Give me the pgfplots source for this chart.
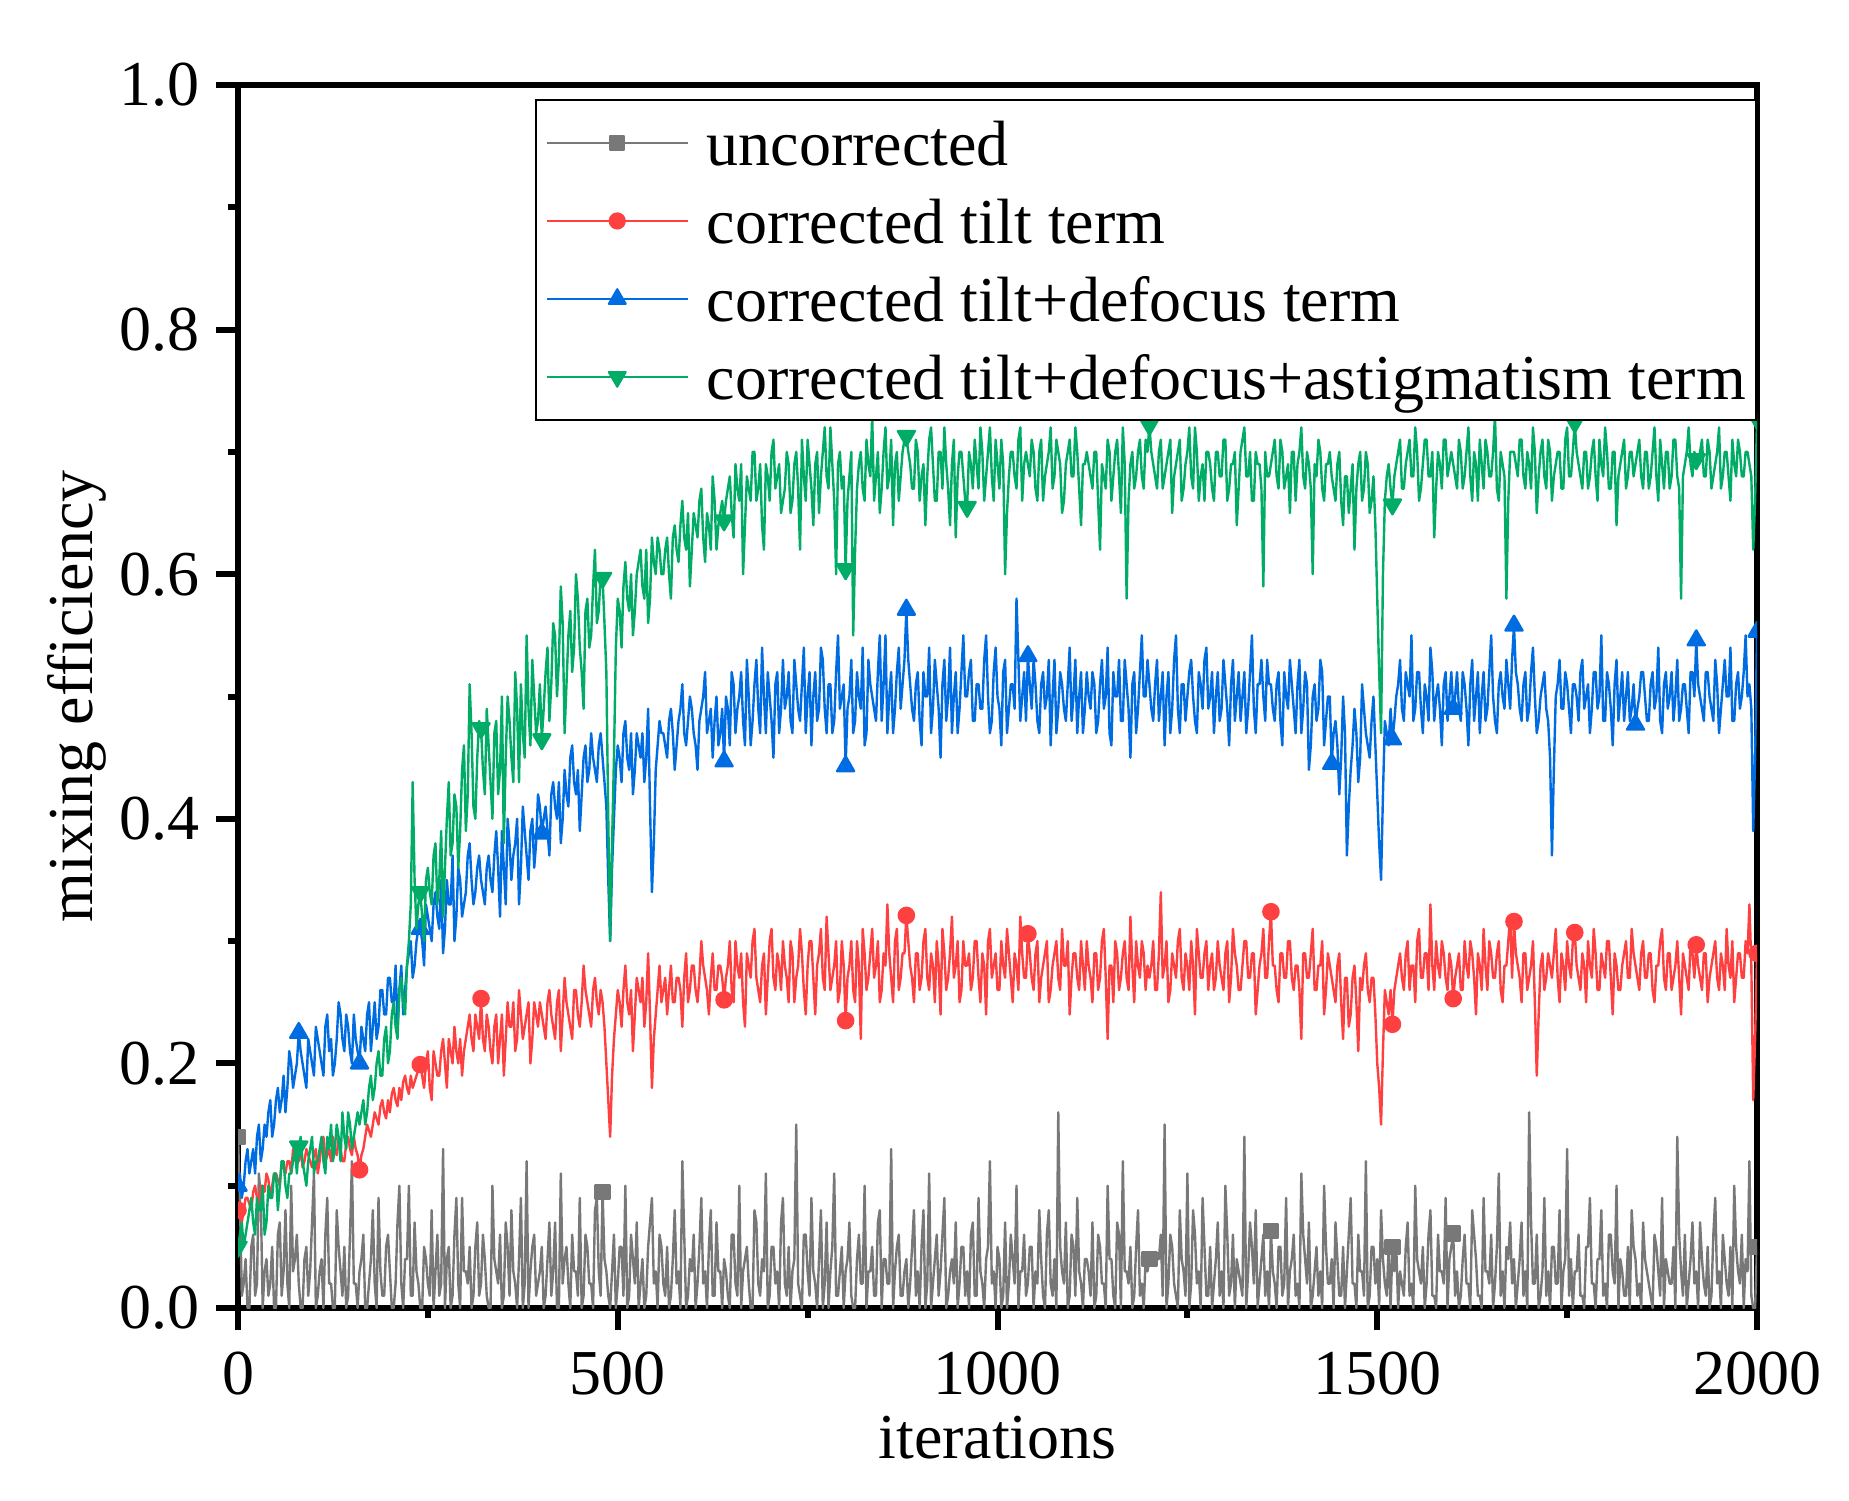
\documentclass[border=0pt]{standalone}
\usepackage{fontspec}
\setmainfont{Liberation Serif}
\usepackage{pgfplots}
\pgfplotsset{compat=1.18}
\usepackage{pgfplotstable}

\definecolor{cGray}{RGB}{120,120,120}
\definecolor{cRed}{RGB}{255,64,64}
\definecolor{cBlue}{RGB}{0,108,226}
\definecolor{cGreen}{RGB}{0,172,102}

% it = iteration, u = uncorrected, r = tilt, b = tilt+defocus, g = tilt+defocus+astigmatism
\pgfplotstableread{
it u r b g
0 0.14 0.08 0.10 0.05
2.5 0.09 0.075 0.11 0.06
5 0.01 0.07 0.09 0.07
7.5 0.02 0.08 0.10 0.05
10 0.04 0.09 0.12 0.06
12.5 0.00 0.09 0.13 0.07
15 0.00 0.085 0.11 0.08
17.5 0.05 0.08 0.12 0.09
20 0.06 0.095 0.13 0.07
22.5 0.01 0.10 0.11 0.06
25 0.02 0.09 0.14 0.09
27.5 0.11 0.085 0.15 0.08
30 0.09 0.10 0.12 0.08
32.5 0.00 0.10 0.13 0.10
35 0.03 0.095 0.15 0.06
37.5 0.04 0.11 0.14 0.07
40 0.01 0.105 0.16 0.10
42.5 0.02 0.09 0.17 0.09
45 0.05 0.10 0.14 0.09
47.5 0.00 0.11 0.15 0.11
50 0.00 0.11 0.17 0.11
52.5 0.06 0.105 0.18 0.08
55 0.07 0.10 0.16 0.10
57.5 0.01 0.12 0.17 0.12
60 0.03 0.115 0.19 0.12
62.5 0.08 0.11 0.16 0.10
65 0.02 0.12 0.18 0.09
67.5 0.00 0.12 0.21 0.11
70 0.10 0.11 0.20 0.11
72.5 0.03 0.13 0.18 0.12
75 0.04 0.125 0.19 0.13
77.5 0.06 0.12 0.20 0.11
80 0.02 0.12 0.225 0.132
82.5 0.00 0.13 0.21 0.14
85 0.00 0.115 0.20 0.12
87.5 0.04 0.12 0.19 0.11
90 0.05 0.13 0.18 0.10
92.5 0.01 0.125 0.22 0.12
95 0.03 0.12 0.21 0.13
97.5 0.07 0.115 0.20 0.14
100 0.11 0.125 0.19 0.11
102.5 0.00 0.13 0.23 0.12
105 0.01 0.11 0.22 0.12
107.5 0.03 0.12 0.21 0.13
110 0.04 0.135 0.20 0.14
112.5 0.00 0.14 0.19 0.12
115 0.06 0.12 0.23 0.11
117.5 0.09 0.125 0.24 0.14
120 0.02 0.13 0.21 0.13
122.5 0.02 0.12 0.22 0.15
125 0.00 0.14 0.19 0.12
127.5 0.00 0.13 0.20 0.13
130 0.08 0.125 0.22 0.15
132.5 0.05 0.14 0.25 0.14
135 0.03 0.13 0.24 0.12
137.5 0.01 0.12 0.22 0.16
140 0.05 0.12 0.21 0.14
142.5 0.00 0.135 0.24 0.13
145 0.01 0.14 0.23 0.16
147.5 0.06 0.13 0.21 0.15
150 0.12 0.125 0.20 0.13
152.5 0.02 0.14 0.24 0.14
155 0.02 0.13 0.22 0.15
157.5 0.00 0.125 0.21 0.16
160 0.03 0.113 0.20 0.15
162.5 0.04 0.125 0.23 0.16
165 0.06 0.13 0.22 0.17
167.5 0.00 0.14 0.21 0.15
170 0.00 0.15 0.24 0.16
172.5 0.02 0.145 0.25 0.18
175 0.04 0.14 0.21 0.19
177.5 0.08 0.15 0.23 0.17
180 0.02 0.16 0.25 0.18
182.5 0.00 0.155 0.22 0.20
185 0.09 0.15 0.23 0.21
187.5 0.03 0.165 0.26 0.19
190 0.01 0.17 0.26 0.19
192.5 0.01 0.16 0.24 0.22
195 0.05 0.155 0.24 0.23
197.5 0.06 0.17 0.27 0.20
200 0.03 0.16 0.27 0.21
202.5 0.00 0.175 0.25 0.24
205 0.00 0.18 0.25 0.25
207.5 0.02 0.17 0.28 0.23
210 0.07 0.165 0.23 0.22
212.5 0.10 0.18 0.26 0.26
215 0.02 0.17 0.28 0.27
217.5 0.00 0.185 0.24 0.25
220 0.04 0.19 0.26 0.24
222.5 0.04 0.18 0.28 0.28
225 0.10 0.175 0.29 0.30
227.5 0.01 0.19 0.30 0.33
230 0.01 0.18 0.27 0.43
232.5 0.07 0.185 0.28 0.35
235 0.03 0.19 0.30 0.31
237.5 0.02 0.195 0.31 0.33
240 0.00 0.199 0.31 0.34
242.5 0.00 0.19 0.30 0.32
245 0.05 0.18 0.28 0.30
247.5 0.04 0.20 0.33 0.35
250 0.02 0.21 0.32 0.36
252.5 0.01 0.18 0.31 0.34
255 0.08 0.17 0.30 0.33
257.5 0.00 0.21 0.33 0.37
260 0.03 0.20 0.34 0.38
262.5 0.06 0.19 0.32 0.33
265 0.01 0.19 0.31 0.35
267.5 0.02 0.21 0.35 0.39
270 0.13 0.22 0.29 0.32
272.5 0.00 0.20 0.31 0.36
275 0.04 0.18 0.35 0.40
277.5 0.05 0.22 0.33 0.43
280 0.00 0.21 0.33 0.37
282.5 0.01 0.20 0.37 0.38
285 0.06 0.23 0.30 0.42
287.5 0.09 0.21 0.32 0.41
290 0.02 0.20 0.36 0.36
292.5 0.00 0.22 0.35 0.39
295 0.09 0.19 0.32 0.44
297.5 0.03 0.21 0.33 0.46
300 0.03 0.22 0.34 0.39
302.5 0.02 0.23 0.37 0.42
305 0.05 0.24 0.38 0.51
307.5 0.00 0.22 0.35 0.47
310 0.01 0.21 0.33 0.41
312.5 0.05 0.24 0.34 0.40
315 0.07 0.23 0.36 0.45
317.5 0.01 0.22 0.37 0.48
320 0.02 0.253 0.35 0.474
322.5 0.06 0.22 0.34 0.44
325 0.04 0.21 0.33 0.42
327.5 0.01 0.24 0.36 0.49
330 0.00 0.23 0.37 0.46
332.5 0.00 0.21 0.35 0.43
335 0.10 0.20 0.34 0.40
337.5 0.04 0.23 0.37 0.47
340 0.03 0.24 0.39 0.48
342.5 0.02 0.20 0.36 0.42
345 0.06 0.22 0.32 0.44
347.5 0.00 0.24 0.39 0.50
350 0.01 0.19 0.36 0.38
352.5 0.07 0.22 0.33 0.45
355 0.05 0.25 0.40 0.50
357.5 0.01 0.23 0.38 0.48
360 0.08 0.23 0.35 0.45
362.5 0.03 0.25 0.37 0.43
365 0.02 0.21 0.38 0.52
367.5 0.00 0.22 0.40 0.49
370 0.04 0.26 0.33 0.43
372.5 0.09 0.24 0.36 0.51
375 0.00 0.22 0.41 0.47
377.5 0.02 0.23 0.39 0.45
380 0.12 0.24 0.37 0.55
382.5 0.00 0.25 0.35 0.49
385 0.03 0.20 0.39 0.46
387.5 0.05 0.22 0.40 0.53
390 0.06 0.25 0.36 0.50
392.5 0.01 0.24 0.38 0.47
395 0.02 0.23 0.42 0.48
397.5 0.03 0.25 0.41 0.51
400 0.05 0.24 0.388 0.465
402.5 0.00 0.23 0.40 0.49
405 0.01 0.22 0.41 0.52
407.5 0.04 0.25 0.39 0.54
410 0.07 0.26 0.37 0.48
412.5 0.01 0.24 0.42 0.51
415 0.03 0.23 0.43 0.56
417.5 0.07 0.22 0.41 0.55
420 0.00 0.25 0.40 0.50
422.5 0.00 0.26 0.43 0.53
425 0.11 0.21 0.38 0.59
427.5 0.02 0.24 0.40 0.56
430 0.04 0.27 0.44 0.47
432.5 0.05 0.25 0.42 0.51
435 0.02 0.24 0.41 0.55
437.5 0.00 0.23 0.45 0.57
440 0.06 0.22 0.46 0.52
442.5 0.03 0.26 0.43 0.54
445 0.03 0.26 0.42 0.60
447.5 0.01 0.24 0.44 0.58
450 0.09 0.23 0.39 0.54
452.5 0.00 0.25 0.42 0.52
455 0.01 0.28 0.45 0.49
457.5 0.06 0.26 0.46 0.57
460 0.05 0.25 0.43 0.58
462.5 0.02 0.24 0.44 0.54
465 0.02 0.23 0.47 0.55
467.5 0.00 0.26 0.45 0.59
470 0.08 0.27 0.44 0.62
472.5 0.09 0.25 0.43 0.56
475 0.03 0.24 0.46 0.57
477.5 0.01 0.26 0.47 0.60
480 0.095 0.25 0.45 0.597
482.5 0.04 0.23 0.43 0.56
485 0.03 0.20 0.41 0.52
487.5 0.01 0.17 0.35 0.40
490 0.00 0.14 0.30 0.30
492.5 0.03 0.19 0.36 0.38
495 0.06 0.22 0.40 0.45
497.5 0.00 0.24 0.44 0.54
500 0.02 0.26 0.46 0.58
502.5 0.05 0.25 0.45 0.57
505 0.05 0.23 0.43 0.54
507.5 0.01 0.26 0.47 0.59
510 0.10 0.28 0.48 0.61
512.5 0.00 0.25 0.45 0.58
515 0.01 0.24 0.44 0.57
517.5 0.06 0.26 0.47 0.60
520 0.04 0.21 0.42 0.55
522.5 0.02 0.24 0.44 0.57
525 0.07 0.27 0.47 0.60
527.5 0.00 0.26 0.46 0.61
530 0.02 0.25 0.45 0.62
532.5 0.04 0.27 0.47 0.59
535 0.00 0.23 0.43 0.58
537.5 0.01 0.25 0.45 0.62
540 0.05 0.29 0.49 0.56
542.5 0.07 0.24 0.41 0.58
545 0.09 0.18 0.34 0.63
547.5 0.02 0.22 0.38 0.61
550 0.03 0.24 0.44 0.60
552.5 0.00 0.26 0.46 0.63
555 0.06 0.28 0.48 0.62
557.5 0.05 0.25 0.47 0.60
560 0.02 0.26 0.47 0.60
562.5 0.01 0.27 0.46 0.62
565 0.05 0.24 0.45 0.63
567.5 0.00 0.26 0.48 0.60
570 0.01 0.28 0.49 0.58
572.5 0.04 0.25 0.47 0.63
575 0.08 0.25 0.44 0.64
577.5 0.02 0.27 0.46 0.62
580 0.03 0.27 0.48 0.61
582.5 0.00 0.26 0.49 0.64
585 0.12 0.23 0.51 0.66
587.5 0.06 0.27 0.47 0.63
590 0.00 0.29 0.46 0.62
592.5 0.01 0.25 0.48 0.65
595 0.04 0.26 0.50 0.59
597.5 0.03 0.28 0.49 0.62
600 0.06 0.28 0.47 0.65
602.5 0.00 0.26 0.46 0.64
605 0.02 0.25 0.44 0.63
607.5 0.05 0.27 0.48 0.66
610 0.09 0.30 0.49 0.67
612.5 0.02 0.28 0.50 0.63
615 0.03 0.27 0.52 0.61
617.5 0.00 0.26 0.47 0.65
620 0.05 0.24 0.48 0.64
622.5 0.08 0.27 0.49 0.62
625 0.01 0.29 0.45 0.68
627.5 0.01 0.26 0.48 0.66
630 0.07 0.26 0.50 0.62
632.5 0.03 0.28 0.46 0.64
635 0.03 0.28 0.47 0.65
637.5 0.00 0.27 0.49 0.66
640 0.04 0.252 0.447 0.644
642.5 0.03 0.27 0.50 0.66
645 0.01 0.28 0.49 0.67
647.5 0.00 0.30 0.46 0.68
650 0.06 0.26 0.52 0.65
652.5 0.06 0.25 0.51 0.63
655 0.02 0.30 0.47 0.69
657.5 0.01 0.28 0.49 0.67
660 0.10 0.27 0.50 0.66
662.5 0.00 0.29 0.52 0.69
665 0.03 0.25 0.48 0.60
667.5 0.04 0.23 0.46 0.64
670 0.05 0.29 0.53 0.68
672.5 0.02 0.28 0.50 0.67
675 0.00 0.27 0.46 0.66
677.5 0.00 0.30 0.48 0.70
680 0.08 0.31 0.51 0.70
682.5 0.07 0.27 0.53 0.66
685 0.02 0.26 0.49 0.67
687.5 0.01 0.25 0.47 0.69
690 0.04 0.28 0.54 0.64
692.5 0.03 0.29 0.50 0.62
695 0.11 0.24 0.47 0.69
697.5 0.00 0.27 0.52 0.68
700 0.01 0.30 0.50 0.66
702.5 0.05 0.31 0.48 0.70
705 0.05 0.27 0.45 0.71
707.5 0.02 0.26 0.51 0.67
710 0.03 0.29 0.52 0.68
712.5 0.00 0.28 0.47 0.69
715 0.07 0.26 0.49 0.65
717.5 0.09 0.30 0.53 0.66
720 0.02 0.28 0.49 0.67
722.5 0.01 0.27 0.50 0.70
725 0.05 0.25 0.52 0.69
727.5 0.00 0.30 0.48 0.65
730 0.03 0.29 0.47 0.66
732.5 0.04 0.25 0.53 0.69
735 0.15 0.27 0.51 0.70
737.5 0.02 0.28 0.49 0.67
740 0.01 0.31 0.48 0.62
742.5 0.00 0.29 0.51 0.71
745 0.06 0.26 0.54 0.68
747.5 0.06 0.24 0.47 0.66
750 0.03 0.28 0.50 0.71
752.5 0.01 0.30 0.52 0.69
755 0.09 0.30 0.46 0.67
757.5 0.03 0.27 0.50 0.64
760 0.02 0.24 0.52 0.69
762.5 0.00 0.28 0.48 0.70
765 0.04 0.29 0.49 0.65
767.5 0.08 0.31 0.54 0.68
770 0.00 0.27 0.53 0.70
772.5 0.02 0.26 0.49 0.72
775 0.07 0.32 0.47 0.68
777.5 0.00 0.29 0.51 0.67
780 0.03 0.26 0.51 0.72
782.5 0.05 0.27 0.47 0.69
785 0.11 0.28 0.48 0.66
787.5 0.01 0.30 0.52 0.60
790 0.01 0.25 0.55 0.69
792.5 0.03 0.26 0.49 0.70
795 0.05 0.30 0.50 0.67
797.5 0.00 0.28 0.51 0.68
800 0.03 0.235 0.443 0.604
802.5 0.04 0.27 0.49 0.66
805 0.07 0.28 0.50 0.68
807.5 0.01 0.30 0.53 0.70
810 0.00 0.26 0.47 0.55
812.5 0.00 0.25 0.48 0.62
815 0.04 0.30 0.52 0.67
817.5 0.06 0.28 0.50 0.69
820 0.02 0.22 0.49 0.70
822.5 0.02 0.31 0.54 0.67
825 0.10 0.29 0.46 0.66
827.5 0.00 0.26 0.47 0.71
830 0.03 0.27 0.53 0.69
832.5 0.03 0.29 0.51 0.68
835 0.05 0.31 0.50 0.73
837.5 0.01 0.27 0.49 0.66
840 0.01 0.28 0.48 0.68
842.5 0.07 0.30 0.52 0.70
845 0.08 0.25 0.55 0.65
847.5 0.00 0.26 0.48 0.67
850 0.04 0.29 0.51 0.70
852.5 0.04 0.28 0.55 0.72
855 0.02 0.33 0.47 0.67
857.5 0.02 0.29 0.50 0.68
860 0.13 0.27 0.52 0.71
862.5 0.00 0.25 0.47 0.64
865 0.03 0.30 0.49 0.69
867.5 0.05 0.31 0.52 0.70
870 0.06 0.26 0.54 0.66
872.5 0.01 0.27 0.49 0.68
875 0.01 0.29 0.51 0.70
877.5 0.03 0.29 0.53 0.71
880 0.04 0.321 0.571 0.713
882.5 0.00 0.30 0.53 0.70
885 0.02 0.28 0.51 0.69
887.5 0.05 0.27 0.49 0.67
890 0.08 0.25 0.48 0.67
892.5 0.01 0.29 0.51 0.71
895 0.03 0.29 0.52 0.70
897.5 0.00 0.26 0.48 0.66
900 0.05 0.27 0.46 0.68
902.5 0.08 0.30 0.52 0.69
905 0.00 0.31 0.50 0.64
907.5 0.02 0.27 0.50 0.68
910 0.11 0.26 0.54 0.71
912.5 0.00 0.29 0.47 0.72
915 0.02 0.28 0.49 0.69
917.5 0.04 0.25 0.53 0.66
920 0.06 0.30 0.51 0.66
922.5 0.01 0.28 0.49 0.70
925 0.03 0.24 0.45 0.70
927.5 0.06 0.31 0.51 0.67
930 0.09 0.29 0.53 0.72
932.5 0.00 0.26 0.48 0.69
935 0.01 0.27 0.50 0.67
937.5 0.03 0.29 0.54 0.64
940 0.04 0.32 0.47 0.69
942.5 0.02 0.27 0.50 0.71
945 0.07 0.28 0.52 0.63
947.5 0.00 0.30 0.47 0.68
950 0.02 0.25 0.49 0.70
952.5 0.05 0.26 0.52 0.70
955 0.05 0.30 0.55 0.68
957.5 0.01 0.28 0.50 0.66
960 0.03 0.28 0.50 0.655
962.5 0.00 0.29 0.52 0.70
965 0.06 0.26 0.53 0.69
967.5 0.07 0.27 0.48 0.67
970 0.01 0.30 0.48 0.71
972.5 0.01 0.30 0.51 0.69
975 0.09 0.27 0.51 0.67
977.5 0.03 0.25 0.49 0.72
980 0.02 0.29 0.49 0.70
982.5 0.00 0.28 0.53 0.66
985 0.04 0.24 0.55 0.68
987.5 0.05 0.30 0.50 0.70
990 0.12 0.31 0.47 0.72
992.5 0.02 0.27 0.48 0.68
995 0.03 0.28 0.52 0.66
997.5 0.00 0.29 0.54 0.71
1000 0.05 0.26 0.50 0.69
1002.5 0.04 0.26 0.49 0.67
1005 0.00 0.30 0.46 0.71
1007.5 0.01 0.28 0.52 0.69
1010 0.07 0.27 0.53 0.60
1012.5 0.00 0.31 0.47 0.65
1015 0.02 0.29 0.49 0.68
1017.5 0.06 0.27 0.51 0.70
1020 0.04 0.25 0.51 0.70
1022.5 0.02 0.29 0.49 0.68
1025 0.10 0.28 0.58 0.67
1027.5 0.00 0.26 0.53 0.71
1030 0.03 0.32 0.48 0.72
1032.5 0.03 0.29 0.50 0.66
1035 0.06 0.27 0.52 0.69
1037.5 0.01 0.27 0.48 0.70
1040 0.02 0.306 0.533 0.69
1042.5 0.05 0.29 0.51 0.68
1045 0.05 0.27 0.49 0.71
1047.5 0.00 0.26 0.53 0.70
1050 0.03 0.29 0.51 0.67
1052.5 0.02 0.30 0.48 0.66
1055 0.08 0.25 0.47 0.70
1057.5 0.04 0.27 0.51 0.71
1060 0.01 0.28 0.52 0.66
1062.5 0.00 0.29 0.49 0.68
1065 0.06 0.30 0.50 0.69
1067.5 0.08 0.25 0.53 0.70
1070 0.02 0.26 0.46 0.72
1072.5 0.01 0.28 0.50 0.67
1075 0.04 0.29 0.53 0.68
1077.5 0.00 0.30 0.47 0.71
1080 0.16 0.27 0.49 0.70
1082.5 0.05 0.26 0.52 0.69
1085 0.03 0.31 0.51 0.65
1087.5 0.02 0.28 0.49 0.66
1090 0.07 0.28 0.48 0.69
1092.5 0.00 0.30 0.51 0.70
1095 0.01 0.24 0.54 0.71
1097.5 0.06 0.27 0.48 0.68
1100 0.05 0.29 0.50 0.68
1102.5 0.01 0.29 0.53 0.72
1105 0.09 0.27 0.47 0.70
1107.5 0.03 0.26 0.50 0.67
1110 0.02 0.30 0.52 0.64
1112.5 0.00 0.28 0.47 0.69
1115 0.04 0.26 0.49 0.69
1117.5 0.04 0.30 0.52 0.70
1120 0.03 0.28 0.50 0.69
1122.5 0.01 0.27 0.49 0.68
1125 0.07 0.25 0.52 0.67
1127.5 0.00 0.29 0.51 0.70
1130 0.01 0.29 0.47 0.70
1132.5 0.06 0.26 0.48 0.66
1135 0.05 0.27 0.51 0.62
1137.5 0.02 0.30 0.53 0.69
1140 0.02 0.31 0.49 0.68
1142.5 0.00 0.27 0.50 0.67
1145 0.10 0.22 0.54 0.71
1147.5 0.04 0.28 0.47 0.70
1150 0.04 0.28 0.46 0.66
1152.5 0.01 0.25 0.52 0.68
1155 0.00 0.30 0.50 0.70
1157.5 0.07 0.29 0.50 0.71
1160 0.06 0.26 0.53 0.68
1162.5 0.00 0.27 0.48 0.65
1165 0.12 0.29 0.48 0.72
1167.5 0.03 0.30 0.53 0.69
1170 0.03 0.27 0.51 0.58
1172.5 0.02 0.26 0.49 0.66
1175 0.05 0.32 0.45 0.69
1177.5 0.00 0.28 0.51 0.70
1180 0.01 0.25 0.52 0.67
1182.5 0.05 0.30 0.47 0.68
1185 0.08 0.28 0.49 0.70
1187.5 0.01 0.27 0.52 0.71
1190 0.02 0.30 0.55 0.68
1192.5 0.00 0.29 0.50 0.67
1195 0.04 0.26 0.50 0.71
1197.5 0.03 0.28 0.53 0.70
1200 0.04 0.27 0.51 0.722
1202.5 0.04 0.28 0.49 0.70
1205 0.04 0.30 0.48 0.69
1207.5 0.04 0.26 0.51 0.68
1210 0.04 0.26 0.53 0.67
1212.5 0.04 0.29 0.48 0.70
1215 0.06 0.34 0.50 0.71
1217.5 0.01 0.27 0.52 0.67
1220 0.15 0.28 0.46 0.68
1222.5 0.00 0.30 0.50 0.69
1225 0.02 0.25 0.52 0.70
1227.5 0.06 0.26 0.47 0.71
1230 0.05 0.29 0.49 0.65
1232.5 0.02 0.28 0.53 0.68
1235 0.01 0.27 0.55 0.69
1237.5 0.00 0.30 0.49 0.70
1240 0.08 0.31 0.47 0.71
1242.5 0.04 0.27 0.51 0.66
1245 0.03 0.26 0.51 0.67
1247.5 0.01 0.29 0.48 0.69
1250 0.11 0.28 0.50 0.70
1252.5 0.00 0.26 0.52 0.72
1255 0.02 0.30 0.53 0.68
1257.5 0.08 0.28 0.50 0.67
1260 0.06 0.24 0.48 0.72
1262.5 0.02 0.31 0.47 0.70
1265 0.03 0.29 0.52 0.66
1267.5 0.00 0.27 0.51 0.68
1270 0.09 0.27 0.49 0.69
1272.5 0.05 0.29 0.53 0.66
1275 0.01 0.30 0.54 0.70
1277.5 0.01 0.26 0.49 0.70
1280 0.05 0.28 0.50 0.69
1282.5 0.00 0.29 0.52 0.67
1285 0.02 0.26 0.47 0.66
1287.5 0.04 0.27 0.50 0.70
1290 0.07 0.30 0.52 0.70
1292.5 0.01 0.28 0.48 0.68
1295 0.03 0.27 0.49 0.68
1297.5 0.00 0.26 0.53 0.71
1300 0.10 0.29 0.51 0.71
1302.5 0.06 0.30 0.49 0.66
1305 0.01 0.25 0.46 0.67
1307.5 0.02 0.27 0.51 0.69
1310 0.06 0.31 0.53 0.69
1312.5 0.00 0.29 0.48 0.70
1315 0.04 0.28 0.50 0.64
1317.5 0.03 0.26 0.52 0.67
1320 0.02 0.26 0.48 0.70
1322.5 0.01 0.28 0.50 0.71
1325 0.14 0.30 0.52 0.72
1327.5 0.00 0.30 0.47 0.68
1330 0.03 0.27 0.49 0.68
1332.5 0.07 0.27 0.52 0.70
1335 0.05 0.29 0.55 0.66
1337.5 0.02 0.29 0.49 0.66
1340 0.08 0.24 0.47 0.70
1342.5 0.00 0.26 0.51 0.69
1345 0.02 0.28 0.51 0.69
1347.5 0.04 0.29 0.53 0.67
1350 0.06 0.31 0.50 0.59
1352.5 0.01 0.27 0.48 0.70
1355 0.03 0.27 0.53 0.68
1357.5 0.00 0.30 0.51 0.68
1360 0.063 0.324 0.51 0.69
1362.5 0.03 0.28 0.49 0.70
1365 0.02 0.28 0.48 0.71
1367.5 0.00 0.26 0.51 0.68
1370 0.05 0.25 0.52 0.67
1372.5 0.05 0.29 0.48 0.71
1375 0.01 0.29 0.46 0.70
1377.5 0.02 0.27 0.52 0.67
1380 0.09 0.27 0.50 0.68
1382.5 0.00 0.30 0.49 0.69
1385 0.03 0.30 0.53 0.65
1387.5 0.04 0.27 0.51 0.70
1390 0.06 0.26 0.49 0.70
1392.5 0.01 0.28 0.47 0.66
1395 0.02 0.28 0.51 0.69
1397.5 0.00 0.26 0.53 0.70
1400 0.11 0.22 0.47 0.72
1402.5 0.06 0.29 0.49 0.68
1405 0.04 0.29 0.52 0.67
1407.5 0.02 0.27 0.51 0.70
1410 0.07 0.27 0.44 0.69
1412.5 0.00 0.29 0.46 0.67
1415 0.01 0.31 0.50 0.60
1417.5 0.03 0.26 0.51 0.69
1420 0.05 0.26 0.48 0.68
1422.5 0.01 0.28 0.49 0.71
1425 0.03 0.28 0.53 0.70
1427.5 0.00 0.30 0.52 0.67
1430 0.10 0.24 0.46 0.66
1432.5 0.05 0.26 0.48 0.69
1435 0.02 0.29 0.50 0.69
1437.5 0.02 0.28 0.50 0.70
1440 0.04 0.27 0.445 0.68
1442.5 0.00 0.26 0.47 0.67
1445 0.07 0.25 0.48 0.66
1447.5 0.04 0.28 0.46 0.69
1450 0.01 0.29 0.42 0.70
1452.5 0.01 0.25 0.45 0.66
1455 0.05 0.22 0.50 0.64
1457.5 0.00 0.27 0.47 0.68
1460 0.03 0.27 0.37 0.68
1462.5 0.06 0.23 0.41 0.65
1465 0.09 0.24 0.44 0.67
1467.5 0.02 0.27 0.46 0.69
1470 0.02 0.28 0.49 0.62
1472.5 0.00 0.25 0.47 0.67
1475 0.06 0.21 0.43 0.69
1477.5 0.03 0.27 0.45 0.70
1480 0.03 0.26 0.51 0.66
1482.5 0.01 0.28 0.49 0.67
1485 0.12 0.29 0.47 0.70
1487.5 0.00 0.26 0.46 0.69
1490 0.01 0.25 0.45 0.65
1492.5 0.05 0.27 0.48 0.66
1495 0.05 0.27 0.50 0.68
1497.5 0.02 0.24 0.46 0.64
1500 0.04 0.20 0.42 0.58
1502.5 0.00 0.18 0.38 0.52
1505 0.08 0.15 0.35 0.47
1507.5 0.04 0.21 0.42 0.60
1510 0.02 0.26 0.48 0.66
1512.5 0.01 0.25 0.47 0.68
1515 0.05 0.24 0.46 0.69
1517.5 0.00 0.26 0.49 0.67
1520 0.05 0.232 0.465 0.657
1522.5 0.03 0.26 0.48 0.68
1525 0.05 0.27 0.50 0.69
1527.5 0.00 0.28 0.51 0.70
1530 0.03 0.29 0.53 0.71
1532.5 0.02 0.27 0.49 0.67
1535 0.01 0.26 0.48 0.67
1537.5 0.05 0.29 0.52 0.69
1540 0.07 0.30 0.51 0.70
1542.5 0.01 0.26 0.50 0.71
1545 0.02 0.28 0.55 0.68
1547.5 0.00 0.28 0.48 0.68
1550 0.10 0.25 0.49 0.72
1552.5 0.04 0.30 0.52 0.70
1555 0.03 0.31 0.52 0.66
1557.5 0.02 0.27 0.49 0.67
1560 0.05 0.27 0.47 0.69
1562.5 0.00 0.29 0.51 0.71
1565 0.02 0.29 0.50 0.71
1567.5 0.06 0.26 0.48 0.68
1570 0.08 0.33 0.54 0.68
1572.5 0.01 0.28 0.52 0.70
1575 0.01 0.26 0.48 0.63
1577.5 0.00 0.30 0.50 0.67
1580 0.06 0.28 0.51 0.70
1582.5 0.03 0.27 0.49 0.69
1585 0.03 0.30 0.46 0.67
1587.5 0.02 0.29 0.51 0.71
1590 0.09 0.27 0.52 0.71
1592.5 0.00 0.26 0.48 0.68
1595 0.04 0.29 0.50 0.69
1597.5 0.05 0.28 0.52 0.70
1600 0.061 0.253 0.49 0.69
1602.5 0.01 0.27 0.50 0.68
1605 0.03 0.28 0.52 0.67
1607.5 0.00 0.29 0.49 0.71
1610 0.01 0.26 0.48 0.70
1612.5 0.04 0.26 0.52 0.67
1615 0.06 0.30 0.51 0.68
1617.5 0.02 0.28 0.49 0.70
1620 0.02 0.27 0.46 0.72
1622.5 0.00 0.30 0.51 0.68
1625 0.08 0.29 0.53 0.66
1627.5 0.06 0.27 0.48 0.70
1630 0.04 0.24 0.50 0.69
1632.5 0.01 0.29 0.52 0.66
1635 0.01 0.28 0.47 0.71
1637.5 0.00 0.26 0.50 0.69
1640 0.09 0.31 0.52 0.67
1642.5 0.03 0.28 0.48 0.71
1645 0.03 0.26 0.49 0.70
1647.5 0.02 0.30 0.52 0.68
1650 0.06 0.29 0.55 0.68
1652.5 0.00 0.27 0.50 0.70
1655 0.02 0.27 0.48 0.73
1657.5 0.05 0.29 0.47 0.67
1660 0.11 0.30 0.51 0.66
1662.5 0.01 0.26 0.52 0.70
1665 0.03 0.25 0.50 0.69
1667.5 0.00 0.28 0.49 0.68
1670 0.05 0.28 0.53 0.58
1672.5 0.04 0.30 0.51 0.66
1675 0.07 0.32 0.49 0.70
1677.5 0.02 0.27 0.53 0.70
1680 0.04 0.316 0.558 0.70
1682.5 0.00 0.29 0.52 0.69
1685 0.02 0.28 0.51 0.68
1687.5 0.04 0.27 0.49 0.71
1690 0.07 0.25 0.48 0.71
1692.5 0.01 0.29 0.51 0.68
1695 0.03 0.29 0.52 0.67
1697.5 0.00 0.26 0.48 0.70
1700 0.16 0.27 0.49 0.69
1702.5 0.07 0.28 0.52 0.67
1705 0.02 0.30 0.54 0.72
1707.5 0.02 0.25 0.50 0.70
1710 0.06 0.19 0.47 0.65
1712.5 0.00 0.24 0.48 0.68
1715 0.01 0.28 0.50 0.70
1717.5 0.03 0.29 0.51 0.71
1720 0.09 0.26 0.52 0.68
1722.5 0.01 0.27 0.49 0.67
1725 0.03 0.29 0.48 0.71
1727.5 0.00 0.28 0.45 0.70
1730 0.05 0.27 0.37 0.66
1732.5 0.05 0.29 0.44 0.68
1735 0.02 0.31 0.50 0.69
1737.5 0.02 0.27 0.51 0.70
1740 0.08 0.25 0.53 0.70
1742.5 0.00 0.29 0.49 0.67
1745 0.03 0.28 0.49 0.67
1747.5 0.04 0.26 0.52 0.71
1750 0.13 0.30 0.51 0.72
1752.5 0.01 0.28 0.49 0.68
1755 0.04 0.27 0.47 0.68
1757.5 0.00 0.30 0.51 0.70
1760 0.03 0.307 0.51 0.724
1762.5 0.03 0.28 0.50 0.70
1765 0.06 0.27 0.48 0.69
1767.5 0.01 0.26 0.52 0.68
1770 0.01 0.29 0.53 0.67
1772.5 0.00 0.28 0.49 0.70
1775 0.05 0.25 0.50 0.70
1777.5 0.05 0.30 0.51 0.67
1780 0.09 0.28 0.47 0.68
1782.5 0.02 0.27 0.49 0.70
1785 0.02 0.31 0.52 0.71
1787.5 0.00 0.29 0.52 0.68
1790 0.04 0.26 0.49 0.66
1792.5 0.04 0.26 0.50 0.71
1795 0.08 0.29 0.55 0.69
1797.5 0.01 0.28 0.48 0.68
1800 0.02 0.27 0.48 0.72
1802.5 0.00 0.30 0.52 0.70
1805 0.06 0.30 0.51 0.67
1807.5 0.06 0.27 0.49 0.67
1810 0.03 0.24 0.46 0.70
1812.5 0.02 0.29 0.51 0.70
1815 0.10 0.28 0.53 0.64
1817.5 0.00 0.26 0.48 0.68
1820 0.04 0.26 0.50 0.69
1822.5 0.03 0.28 0.52 0.70
1825 0.01 0.29 0.48 0.71
1827.5 0.01 0.30 0.50 0.67
1830 0.05 0.27 0.52 0.68
1832.5 0.00 0.27 0.48 0.70
1835 0.08 0.31 0.49 0.70
1837.5 0.05 0.29 0.51 0.68
1840 0.04 0.28 0.477 0.69
1842.5 0.01 0.27 0.49 0.70
1845 0.02 0.26 0.50 0.71
1847.5 0.00 0.29 0.52 0.68
1850 0.07 0.30 0.52 0.67
1852.5 0.04 0.27 0.50 0.70
1855 0.03 0.27 0.48 0.70
1857.5 0.02 0.29 0.48 0.67
1860 0.01 0.29 0.51 0.68
1862.5 0.00 0.26 0.52 0.70
1865 0.06 0.25 0.49 0.72
1867.5 0.05 0.28 0.50 0.68
1870 0.03 0.28 0.54 0.66
1872.5 0.01 0.30 0.48 0.71
1875 0.09 0.31 0.47 0.69
1877.5 0.00 0.27 0.51 0.67
1880 0.04 0.26 0.52 0.70
1882.5 0.03 0.29 0.49 0.70
1885 0.02 0.29 0.50 0.67
1887.5 0.02 0.26 0.52 0.68
1890 0.05 0.27 0.48 0.71
1892.5 0.00 0.28 0.50 0.71
1895 0.14 0.30 0.53 0.68
1897.5 0.06 0.27 0.48 0.67
1900 0.03 0.24 0.49 0.58
1902.5 0.01 0.29 0.51 0.68
1905 0.06 0.28 0.51 0.69
1907.5 0.00 0.27 0.49 0.70
1910 0.02 0.26 0.47 0.72
1912.5 0.04 0.30 0.52 0.69
1915 0.07 0.29 0.52 0.68
1917.5 0.02 0.27 0.50 0.70
1920 0.03 0.297 0.546 0.694
1922.5 0.00 0.28 0.51 0.69
1925 0.07 0.27 0.50 0.70
1927.5 0.04 0.26 0.49 0.71
1930 0.02 0.29 0.48 0.68
1932.5 0.01 0.29 0.52 0.68
1935 0.05 0.25 0.52 0.71
1937.5 0.00 0.27 0.50 0.70
1940 0.01 0.28 0.49 0.67
1942.5 0.06 0.29 0.48 0.68
1945 0.09 0.30 0.53 0.69
1947.5 0.02 0.27 0.51 0.70
1950 0.03 0.26 0.47 0.72
1952.5 0.00 0.29 0.49 0.67
1955 0.06 0.28 0.51 0.68
1957.5 0.04 0.26 0.53 0.70
1960 0.02 0.31 0.50 0.70
1962.5 0.01 0.28 0.50 0.68
1965 0.05 0.27 0.54 0.66
1967.5 0.00 0.30 0.48 0.71
1970 0.10 0.25 0.48 0.69
1972.5 0.05 0.27 0.51 0.68
1975 0.03 0.29 0.52 0.71
1977.5 0.02 0.29 0.49 0.70
1980 0.06 0.27 0.50 0.68
1982.5 0.00 0.27 0.52 0.68
1985 0.04 0.30 0.55 0.70
1987.5 0.03 0.29 0.50 0.70
1990 0.12 0.33 0.51 0.69
1992.5 0.01 0.28 0.49 0.68
1995 0.00 0.17 0.39 0.62
1997.5 0.00 0.22 0.45 0.66
2000 0.05 0.29 0.553 0.727
}\mixdata

\begin{document}
\fontsize{16}{19.2}\selectfont
\begin{tikzpicture}
\useasboundingbox (-59.5pt,-48pt) rectangle (402.75pt,327pt);
\begin{axis}[
  scale only axis,
  width=379.75pt, height=305.75pt,
  xmin=0, xmax=2000, ymin=0, ymax=1,
  xtick={0,500,1000,1500,2000},
  minor xtick={250,750,1250,1750},
  ytick={0,0.2,0.4,0.6,0.8,1.0},
  minor ytick={0.1,0.3,0.5,0.7,0.9},
  xtick pos=bottom, ytick pos=left,
  tick align=outside,
  major tick length=5.5pt, minor tick length=2.5pt,
  every tick/.style={black, line width=1.5pt},
  axis line style={line width=1.6pt},
  /pgf/number format/assume math mode=true,
  xticklabel style={/pgf/number format/set thousands separator={}},
  yticklabel style={/pgf/number format/.cd, fixed, fixed zerofill, precision=1, /tikz/xshift=1.5pt},
  tick label style={font=\fontsize{16}{19.2}\selectfont},
  xlabel={iterations}, ylabel={mixing efficiency},
  label style={font=\fontsize{16}{19.2}\selectfont},
  xlabel style={at={(axis description cs:0.5,-0.12265)}, anchor=base},
  ylabel style={at={(axis description cs:-0.0961,0.5)}, anchor=base},
  clip marker paths=true,
  legend cell align=left,
  legend image code/.code={\draw[mark repeat=2,mark phase=2] plot coordinates {(0pt,0pt) (17.6pt,0pt) (35.25pt,0pt)};},
  legend style={at={(0.1955,0.9885)}, anchor=north west, draw=black, line width=0.45pt, fill=white,
    inner xsep=2.5pt, inner ysep=1pt, row sep=0pt, column sep=4.5pt,
    font=\fontsize{16}{19.2}\selectfont,
    nodes={inner sep=0pt, text height=15.5pt, text depth=4pt}},
  every axis plot/.append style={line width=0.6pt, line join=round, forget plot},
]
% legend entries
\addlegendimage{color=cGray, line width=0.5pt, mark=square*, mark size=1.75pt}
\addlegendimage{color=cRed, line width=0.5pt, mark=*, mark size=1.9pt}
\addlegendimage{color=cBlue, line width=0.5pt, mark=triangle*, mark size=2.45pt}
\addlegendimage{color=cGreen, line width=0.5pt, mark=triangle*, mark size=2.45pt, mark options={rotate=180}}

% uncorrected
\addplot[only marks, color=cGray, mark=square*, mark size=1.75pt] coordinates {
  (0,0.14) (480,0.095) (1200,0.04) (1360,0.063) (1520,0.05) (1600,0.061) (2000,0.05)};
\addplot[color=cGray, mark=none] table[x=it, y=u] {\mixdata};
% tilt
\addplot[only marks, color=cRed, mark=*, mark size=1.9pt] coordinates {
  (0,0.08) (160,0.113) (240,0.199) (320,0.253) (640,0.252) (800,0.235) (880,0.321) (1040,0.306)
  (1360,0.324) (1520,0.232) (1600,0.253) (1680,0.316) (1760,0.307) (1920,0.297) (2000,0.29)};
\addplot[color=cRed, mark=none] table[x=it, y=r] {\mixdata};
% tilt + defocus
\addplot[only marks, color=cBlue, mark=triangle*, mark size=2.45pt] coordinates {
  (0,0.10) (80,0.225) (160,0.20) (240,0.31) (400,0.388) (640,0.447) (800,0.443) (880,0.571) (1040,0.533)
  (1440,0.445) (1520,0.465) (1600,0.49) (1680,0.558) (1840,0.477) (1920,0.546) (2000,0.553)};
\addplot[color=cBlue, mark=none] table[x=it, y=b] {\mixdata};
% tilt + defocus + astigmatism
\addplot[only marks, color=cGreen, mark=triangle*, mark size=2.45pt, mark options={rotate=180}] coordinates {
  (0,0.05) (80,0.132) (240,0.34) (320,0.474) (400,0.465) (480,0.597) (640,0.644) (800,0.604) (880,0.713)
  (960,0.655) (1200,0.722) (1520,0.657) (1760,0.724) (1920,0.694) (2000,0.727)};
\addplot[color=cGreen, mark=none] table[x=it, y=g] {\mixdata};

\legend{uncorrected, corrected tilt term, corrected tilt+defocus term, corrected tilt+defocus+astigmatism term}
\end{axis}
\end{tikzpicture}
\end{document}
